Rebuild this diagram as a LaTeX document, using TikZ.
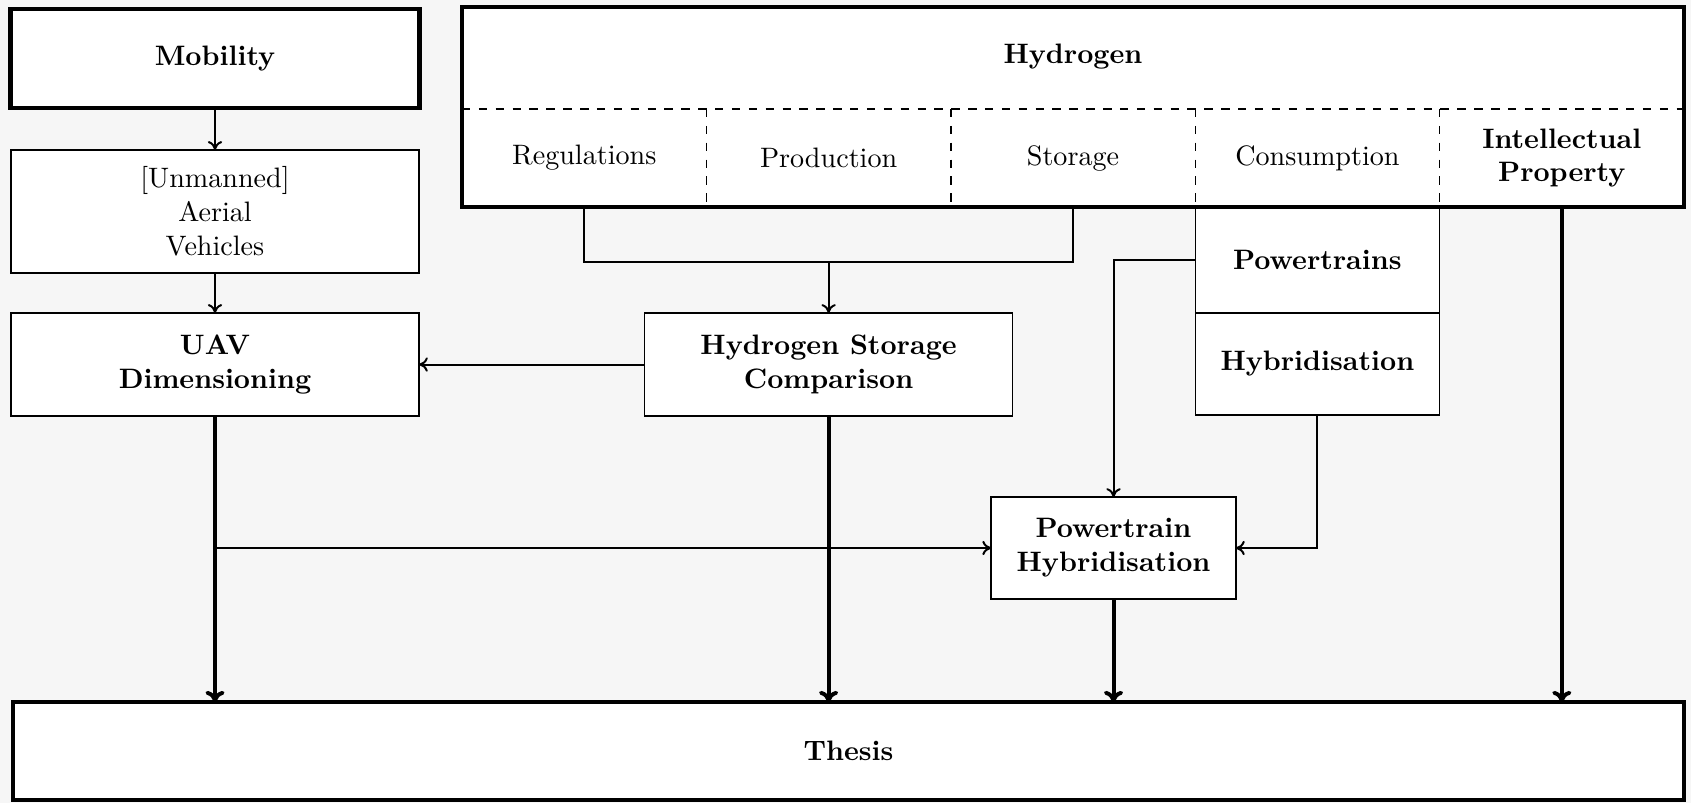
\documentclass[tikz,border=0pt]{standalone}
\usepackage{tikz}
\usetikzlibrary{arrows.meta,positioning,calc}
\definecolor{paper}{HTML}{F6F6F6}

\begin{document}
\begin{tikzpicture}[
  box/.style={draw,fill=white,line width=0.5pt,align=center,outer sep=0pt,inner sep=2pt},
  bigbox/.style={box,line width=1.5pt},
  cell/.style={align=center,outer sep=0pt,inner sep=1pt,minimum width=3.055cm,minimum height=1.225cm},
  arr/.style={-{To[length=1.1mm,width=1.8mm]},line width=0.7pt},
  bigarr/.style={-{To[length=1.4mm,width=2.4mm]},line width=1.4pt}]
  \fill[paper] (0,0) rectangle (21.1375,10.0375);
  \useasboundingbox (0,0) rectangle (21.1375,10.0375);

  \node[bigbox,font=\bfseries,minimum width=5.11cm,minimum height=1.24cm] (mob) at (2.6875,9.306) {Mobility};
  \node[box,minimum width=5.1cm,minimum height=1.54cm] (uav) at (2.6875,7.394) {[Unmanned]\\Aerial\\Vehicles};
  \node[box,font=\bfseries,minimum width=5.1cm,minimum height=1.29cm] (dim) at (2.6875,5.481) {UAV\\Dimensioning};

  \node[fill=white,outer sep=0pt,minimum width=15.275cm,minimum height=2.5cm] (hyd) at (13.4125,8.7) {};
  \node[font=\bfseries] (hydt) at ($(hyd.north)+(0,-0.625)$) {Hydrogen};
  \node[cell,anchor=south west] (reg) at (hyd.south west) {Regulations};
  \node[cell,right=0pt of reg] (prod) {Production};
  \node[cell,right=0pt of prod] (stor) {Storage};
  \node[cell,right=0pt of stor] (cons) {Consumption};
  \node[cell,right=0pt of cons,font=\bfseries] (ip) {Intellectual\\Property};
  \draw[dashed,line width=0.5pt] (hyd.west |- reg.north) -- (hyd.east |- reg.north);
  \foreach \c in {reg,prod,stor,cons}
    \draw[dashed,line width=0.5pt] (\c.north east) -- (\c.south east);

  \node[box,font=\bfseries,anchor=north,minimum width=3.055cm,minimum height=1.325cm] (ptr) at (cons.south) {Powertrains};
  \node[box,font=\bfseries,below=0pt of ptr,minimum width=3.055cm,minimum height=1.275cm] (hyb) {Hybridisation};
  \draw[line width=1.5pt] (hyd.south west) rectangle (hyd.north east);

  \node[box,font=\bfseries,minimum width=4.6cm,minimum height=1.29cm] (hsc) at (prod.south |- dim) {Hydrogen Storage\\Comparison};
  \node[box,font=\bfseries,minimum width=3.06cm,minimum height=1.275cm] (ph) at (13.919,3.1875) {Powertrain\\Hybridisation};
  \node[bigbox,font=\bfseries,minimum width=20.8875cm,minimum height=1.225cm] (thesis) at (10.606,0.65) {Thesis};

  \draw[arr] (mob) -- (uav);
  \draw[arr] (uav) -- (dim);
  \coordinate (join) at ($(prod.south)+(0,-0.69)$);
  \draw[line width=0.7pt] (reg.south) |- (join) -| (stor.south);
  \draw[arr] (join) -- (hsc);
  \draw[arr] (hsc) -- (dim);
  \draw[arr] (ptr.west) -| (ph.north);
  \draw[arr] (hyb.south) |- (ph.east);
  \coordinate (split) at (dim.south |- ph.west);
  \draw[arr] (split) -- (ph.west);
  \draw[bigarr] (dim.south) -- (dim.south |- thesis.north);
  \draw[bigarr] (hsc.south) -- (hsc.south |- thesis.north);
  \draw[bigarr] (ph.south) -- (ph.south |- thesis.north);
  \draw[bigarr] (ip.south) -- (ip.south |- thesis.north);
\end{tikzpicture}
\end{document}
